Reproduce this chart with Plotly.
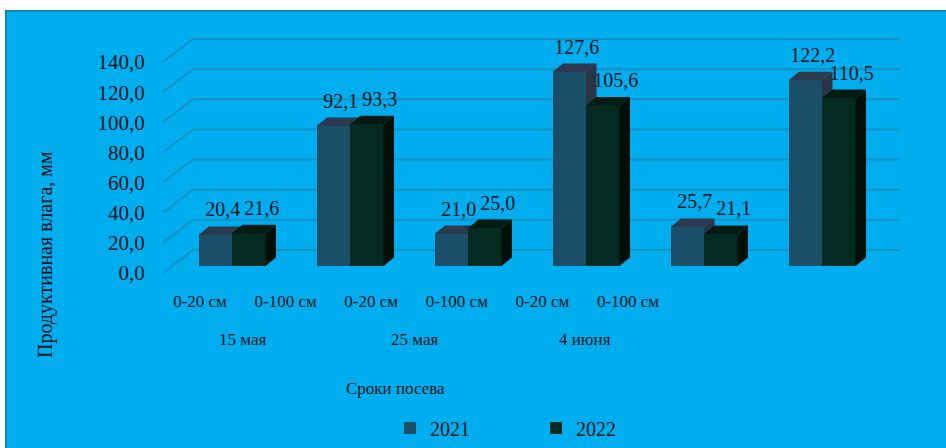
import plotly.graph_objects as go

# ---------------- data ----------------
dates = ["15 мая", "25 мая", "4 июня"]
depths = ["0-20 см", "0-100 см"]
categories = [d for _ in dates for d in depths]
years = ["2021", "2022"]
v2021 = [20.4, 92.1, 21.0, 127.6, 25.7, 122.2]
v2022 = [21.6, 93.3, 25.0, 105.6, 21.1, 110.5]
y_ticks = [0, 20, 40, 60, 80, 100, 120, 140]
x_title = "Сроки посева"
y_title = "Продуктивная влага, мм"

# ---------------- style / geometry ----------------
W, H = 946, 448
L, R, T, B = 150, 900, 20, 280
PW, PH = R - L, B - T
FONT = "Liberation Serif"
TXT = "#0a141c"
BG = "#00AEEF"
GRID = "#1590c2"
C21 = dict(front="#1b4e69", top="#2b3a4e", side="#2a3446")
C22 = dict(front="#032b21", top="#021c13", side="#000f07")

# bar (front-face) axis scale
bx_px, bx0 = 118.0, 232.0
by_px, by0 = 1.52, 266.0
# front-floor axis scale (tick labels, grid)
fx_px, fx0 = 85.6, 200.0
fy_px, fy0 = 1.507, 273.0

xr = [(L - bx0) / bx_px, (R - bx0) / bx_px]
yr = [(by0 - B) / by_px, (by0 - T) / by_px]
x2r = [(L - fx0) / fx_px, (R - fx0) / fx_px]
y2r = [(fy0 - B) / fy_px, (fy0 - T) / fy_px]

bw = 33.5 / bx_px
ddx = 10.5 / bx_px
ddy = 8.5 / by_px
lab_dy = 23.5 / by_px
lab_dx = {"2021": 7.5 / bx_px, "2022": 13 / bx_px}

idx = list(range(len(categories)))


def faces(x_left, vals):
    tx, ty, sx, sy = [], [], [], []
    for x0, v in zip(x_left, vals):
        x1 = x0 + bw
        tx += [x0, x1, x1 + ddx, x0 + ddx, x0, None]
        ty += [v, v, v + ddy, v + ddy, v, None]
        sx += [x1, x1 + ddx, x1 + ddx, x1, x1, None]
        sy += [0, ddy, v + ddy, v, 0, None]
    return tx, ty, sx, sy


def fmt(v):
    return f"{v:.1f}".replace(".", ",")


fig = go.Figure()

series = [("2021", v2021, C21, "x", "y", -1), ("2022", v2022, C22, "x3", "y3", 0)]
for name, vals, col, xa, ya, shift in series:
    x_left = [i + shift * bw for i in idx]
    fig.add_trace(go.Bar(
        x=[x + bw / 2 for x in x_left], y=vals, width=[bw] * len(vals),
        marker=dict(color=col["front"], line=dict(width=0)),
        name=name, xaxis=xa, yaxis=ya, showlegend=True, hoverinfo="skip"))
    tx, ty, sx, sy = faces(x_left, vals)
    fig.add_trace(go.Scatter(x=sx, y=sy, mode="lines", fill="toself",
                             fillcolor=col["side"], line=dict(width=0),
                             xaxis=xa, yaxis=ya, showlegend=False, hoverinfo="skip"))
    fig.add_trace(go.Scatter(x=tx, y=ty, mode="lines", fill="toself",
                             fillcolor=col["top"], line=dict(width=0),
                             xaxis=xa, yaxis=ya, showlegend=False, hoverinfo="skip"))
    fig.add_trace(go.Scatter(
        x=[x + bw / 2 + lab_dx[name] for x in x_left], y=[v + lab_dy for v in vals],
        mode="text", text=[fmt(v) for v in vals], textposition="middle center",
        textfont=dict(family=FONT, size=20, color=TXT), cliponaxis=False,
        xaxis=xa, yaxis=ya, showlegend=False, hoverinfo="skip"))

# carrier for the front-floor axes
fig.add_trace(go.Scatter(x=[0], y=[0], mode="markers", marker=dict(opacity=0),
                         xaxis="x2", yaxis="y2", showlegend=False, hoverinfo="skip"))

shapes = [dict(type="rect", xref="paper", yref="paper", layer="below",
               x0=(6 - L) / PW, x1=(W + 5 - L) / PW, y0=(B - H - 5) / PH, y1=(B - 11) / PH,
               fillcolor=BG, line=dict(color="#0a88bb", width=2))]
gx0 = (163 - fx0) / fx_px
gdx = 30 / fx_px
gdy = 23 / fy_px
for t in y_ticks:
    shapes.append(dict(type="path", xref="x2", yref="y2", layer="below",
                       path=f"M {gx0},{t} L {gx0 + gdx},{t + gdy} L {x2r[1]},{t + gdy}",
                       line=dict(color=GRID, width=2)))

annotations = [
    dict(text=y_title, xref="paper", yref="paper", x=(45 - L) / PW, y=(B - 254) / PH,
         textangle=-90, showarrow=False, xanchor="center", yanchor="middle",
         font=dict(family=FONT, size=20, color=TXT)),
    dict(text=x_title, xref="paper", yref="paper", x=(395 - L) / PW, y=(B - 388) / PH,
         showarrow=False, xanchor="center", yanchor="middle",
         font=dict(family=FONT, size=17, color=TXT)),
]
for k, d in enumerate(dates):
    annotations.append(dict(text=d, xref="x2", yref="paper", x=2 * k + 0.5, y=(B - 339) / PH,
                            showarrow=False, xanchor="center", yanchor="middle",
                            font=dict(family=FONT, size=17, color=TXT)))

hidden = dict(showgrid=False, zeroline=False, showticklabels=False, showline=False, ticks="")
fig.update_layout(
    width=W, height=H, margin=dict(l=L, r=W - R, t=T, b=H - B, pad=0, autoexpand=False),
    paper_bgcolor="white", plot_bgcolor="rgba(0,0,0,0)",
    barmode="overlay", bargap=0,
    font=dict(family=FONT, size=19, color=TXT),
    xaxis=dict(range=xr, **hidden),
    yaxis=dict(range=yr, **hidden),
    xaxis3=dict(range=xr, overlaying="x", anchor="y3", **hidden),
    yaxis3=dict(range=yr, overlaying="y", anchor="x3", **hidden),
    xaxis2=dict(range=x2r, overlaying="x", anchor="y2", showgrid=False, zeroline=False,
                showline=False, tickmode="array", tickvals=idx, ticktext=categories,
                ticks="outside", ticklen=6, tickcolor="rgba(0,0,0,0)",
                tickfont=dict(family=FONT, size=17, color=TXT)),
    yaxis2=dict(range=y2r, overlaying="y", anchor="x2", side="left", showgrid=False,
                zeroline=False, showline=False, tickmode="array", tickvals=y_ticks,
                ticktext=[fmt(t) for t in y_ticks], ticks="outside", ticklen=0,
                tickcolor="rgba(0,0,0,0)", tickfont=dict(family=FONT, size=21, color=TXT)),
    shapes=shapes,
    annotations=annotations,
    legend=dict(orientation="h", x=(390 - L) / PW, y=(B - 428) / PH, xanchor="left",
                yanchor="middle", bgcolor="rgba(0,0,0,0)", entrywidth=101,
                font=dict(family=FONT, size=20, color=TXT), traceorder="normal",
                itemclick=False),
)

fig.write_html("out.html")
